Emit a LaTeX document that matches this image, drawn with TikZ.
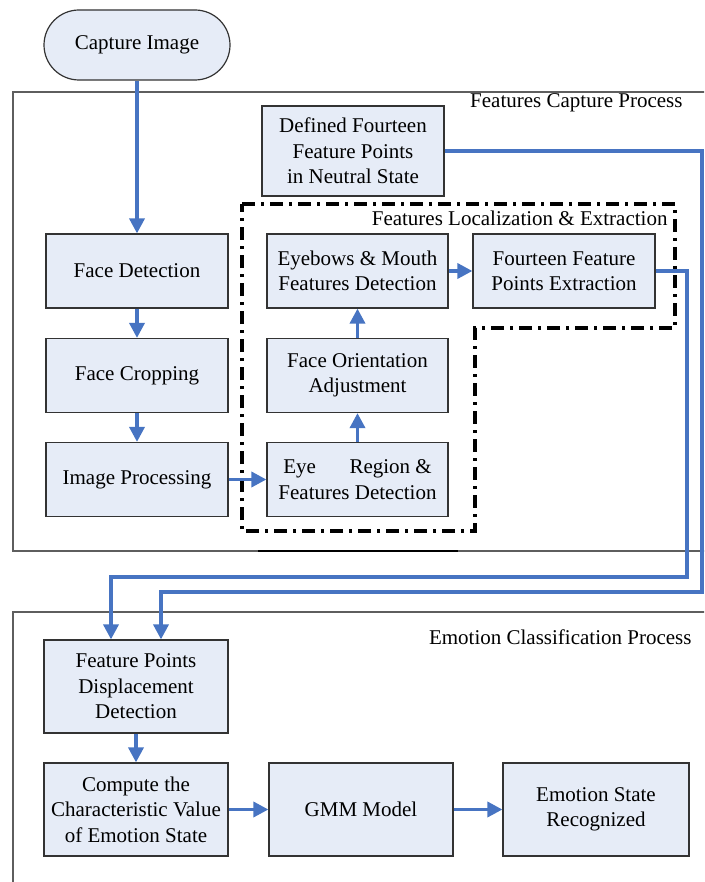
\documentclass[tikz,border=0pt]{standalone}
\usepackage{fontspec}
\setmainfont{Liberation Serif}
\usetikzlibrary{positioning,arrows.meta,calc}
\definecolor{boxfill}{HTML}{E6ECF7}
\definecolor{boxline}{HTML}{333333}
\definecolor{flowblue}{HTML}{4774C2}
\definecolor{frameline}{HTML}{5E5E5E}

\begin{document}
\begin{tikzpicture}[x=1pt,y=-1pt,
  every node/.style={font=\fontsize{21}{25.5}\selectfont},
  stepbox/.style={draw=boxline, fill=boxfill, line width=1.2pt, align=center, inner sep=0pt, minimum width=182pt, minimum height=74pt},
  tallbox/.style={stepbox, minimum width=184pt, minimum height=93pt},
  flow/.style={draw=flowblue, line width=3.5pt, -{Triangle[length=15pt,width=15pt]}},
  frame/.style={draw=frameline, line width=1.1pt}]
\useasboundingbox (0,0) rectangle (704,882);
\clip (0,0) rectangle (704,882);
% outer frames
\draw[frame] (720,92) -- (13,92) -- (13,551) -- (720,551);
\draw[line width=2pt] (258,551) -- (458,551);
\draw[frame] (720,612) -- (13,612) -- (13,900);
\node[anchor=east] (capname) at (686,103) {Features Capture Process};
\node[anchor=east] (emoname) at (695,637) {Emotion Classification Process};
% localization box
\draw[line width=3.2pt, dash pattern=on 13pt off 6pt on 3pt off 6pt]
  (242,204) -- (675,204) -- (675,328) -- (475,328) -- (475,531) -- (242,531) -- cycle;
\node[anchor=east] (locname) at (671,218) {Features Localization \& Extraction};
% nodes
\node[stepbox, rounded corners=35pt, minimum width=186pt, minimum height=70pt] (capture) at (137,45) {Capture Image};
\node[stepbox, minimum height=90pt] (defined) at (353,151) {Defined Fourteen\\Feature Points\\in Neutral State};
\node[stepbox] (facedet) at (137,271) {Face Detection};
\node[stepbox] (facecrop) at (137,375.5) {Face Cropping};
\node[stepbox] (imgproc) at (137,479.5) {Image Processing};
\node[stepbox, minimum width=181pt] (eyemouth) at (357.5,271) {Eyebows \& Mouth\\Features Detection};
\node[stepbox] (extract) at (564,271) {Fourteen Feature\\Points Extraction};
\node[stepbox, minimum width=181pt] (orient) at (357.5,375.5) {Face Orientation\\Adjustment};
\node[stepbox, minimum width=181pt] (eyereg) at (357.5,479.5) {Eye\hspace{1.6em}Region \&\\Features Detection};
\node[tallbox] (displace) at (136,686.5) {Feature Points\\Displacement\\Detection};
\node[tallbox] (compute) at (136,809.5) {Compute the\\Characteristic Value\\of Emotion State};
\node[tallbox] (gmm) at (361,809.5) {GMM Model};
\node[tallbox, minimum width=186pt] (recog) at (596,809.5) {Emotion State\\Recognized};
% connectors
\coordinate (exA) at (687,271);
\coordinate (exB) at (687,577);
\coordinate (exC) at (111,577);
\coordinate (dfA) at (702,151);
\coordinate (dfB) at (702,592);
\coordinate (dfC) at (161,592);
\draw[flow] (capture) -- (facedet);
\draw[flow] (facedet) -- (facecrop);
\draw[flow] (facecrop) -- (imgproc);
\draw[flow] (imgproc) -- (eyereg);
\draw[flow] (eyereg) -- (orient);
\draw[flow] (orient) -- (eyemouth);
\draw[flow] (eyemouth) -- (extract);
\draw[flow] (extract.east) -- (exA) -- (exB) -- (exC) -- (exC |- displace.north);
\draw[flow] (defined.east) -- (dfA) -- (dfB) -- (dfC) -- (dfC |- displace.north);
\draw[flow] (displace) -- (compute);
\draw[flow] (compute) -- (gmm);
\draw[flow] (gmm) -- (recog);
\end{tikzpicture}
\end{document}
